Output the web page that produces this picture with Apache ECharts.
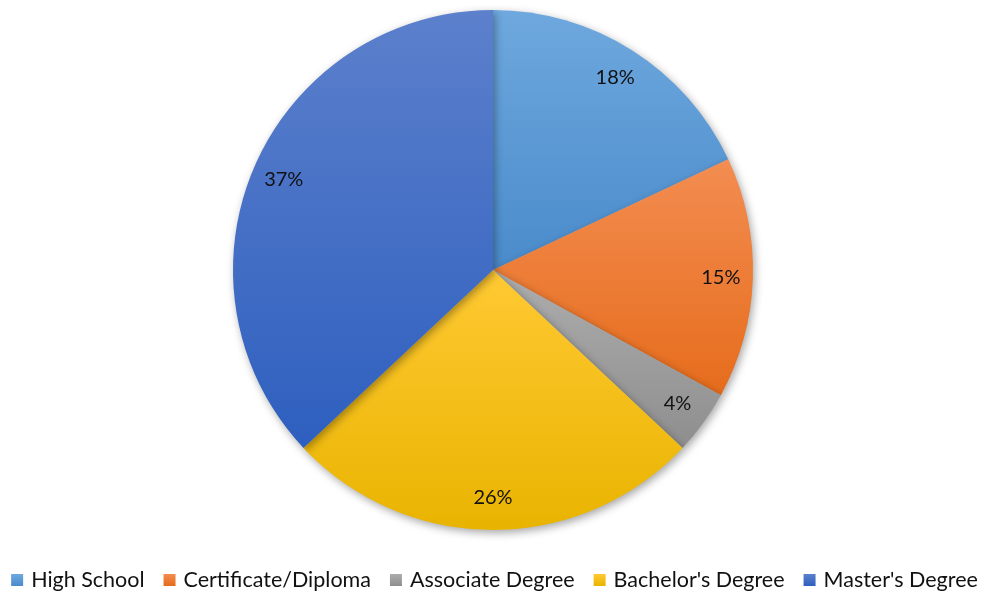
<!DOCTYPE html>
<html>
<head>
<meta charset="utf-8">
<script src="https://cdn.jsdelivr.net/npm/echarts@6/dist/echarts.min.js"></script>
<style>
  html, body { margin: 0; padding: 0; background: #fff; }
  #chart { width: 989px; height: 597px; }
</style>
</head>
<body>
<div id="chart"></div>
<script>
const categories = ["High School", "Certificate/Diploma", "Associate Degree", "Bachelor's Degree", "Master's Degree"];
const shares = [18, 15, 4, 26, 37];
// top / bottom shades of each slice
const topColors = ["#6ea8de", "#f38d51", "#adadad", "#ffc933", "#5c80cc"];
const bottomColors = ["#4a8bcb", "#e66c1c", "#8e8e8e", "#e9b400", "#2e5fbf"];

function grad(i) {
  return new echarts.graphic.LinearGradient(0, 0, 0, 1, [
    { offset: 0, color: topColors[i] },
    { offset: 1, color: bottomColors[i] }
  ]);
}

const chart = echarts.init(document.getElementById("chart"));
chart.setOption({
  animation: false,
  legend: {
    bottom: 1,
    left: "center",
    itemWidth: 12,
    itemHeight: 12,
    itemGap: 19,
    icon: "rect",
    data: categories,
    textStyle: { fontFamily: "Lato", fontSize: 21.5, color: "#111", padding: [0, 0, 0, 3] }
  },
  series: [
    {
      type: "pie",
      center: [493, 270],
      radius: [0, 260],
      startAngle: 90,
      clockwise: true,
      label: { show: false },
      labelLine: { show: false },
      itemStyle: {
        shadowBlur: 8,
        shadowOffsetX: 2,
        shadowOffsetY: 3,
        shadowColor: "rgba(0,0,0,0.35)"
      },
      emphasis: { disabled: true },
      data: categories.map((c, i) => ({ name: c, value: shares[i], itemStyle: { color: grad(i) } }))
    },
    {
      // label carrier placed near the rim
      type: "pie",
      center: [493, 270],
      radius: [190, 260],
      startAngle: 90,
      clockwise: true,
      silent: true,
      legendHoverLink: false,
      itemStyle: { color: "transparent" },
      label: {
        show: true,
        position: "inside",
        formatter: "{c}%",
        fontFamily: "Lato",
        fontSize: 20,
        color: "#111"
      },
      labelLine: { show: false },
      emphasis: { disabled: true },
      data: shares.map((v, i) => ({ name: "lbl" + i, value: v }))
    }
  ]
});
</script>
</body>
</html>
